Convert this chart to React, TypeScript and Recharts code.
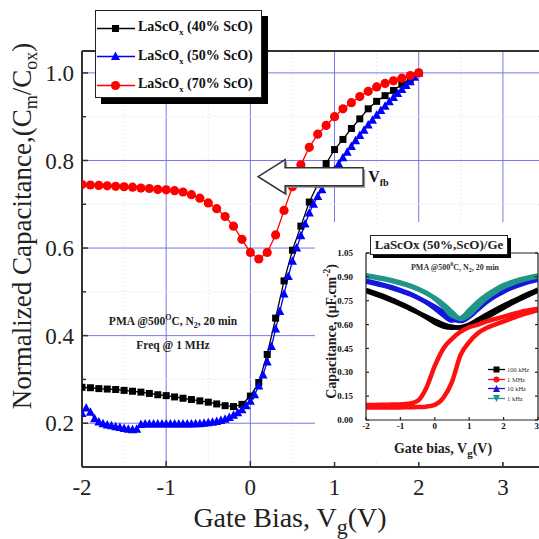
import React from "react";
import { LineChart, Line, XAxis, YAxis, CartesianGrid, ReferenceDot, ReferenceLine } from "recharts";

// Normalized C-V curves of LaScOx films, with a C-V frequency inset for the 50% ScO film.

const SERIF = '"Liberation Serif", "Times New Roman", serif';

// main chart: gate bias (V), 0.1 V steps for 40% and 70%, 0.05 V steps for 50%
const bias01 = [
  -2, -1.9, -1.8, -1.7, -1.6, -1.5, -1.4, -1.3, -1.2, -1.1,
  -1, -0.9, -0.8, -0.7, -0.6, -0.5, -0.4, -0.3, -0.2, -0.1,
  0, 0.1, 0.2, 0.3, 0.4, 0.5, 0.6, 0.7, 0.8, 0.9,
  1, 1.1, 1.2, 1.3, 1.4, 1.5, 1.6, 1.7, 1.8, 1.9, 2,
];
const bias005 = [
  -2, -1.95, -1.9, -1.85, -1.8, -1.75, -1.7, -1.65, -1.6, -1.55,
  -1.5, -1.45, -1.4, -1.35, -1.3, -1.25, -1.2, -1.15, -1.1, -1.05,
  -1, -0.95, -0.9, -0.85, -0.8, -0.75, -0.7, -0.65, -0.6, -0.55,
  -0.5, -0.45, -0.4, -0.35, -0.3, -0.25, -0.2, -0.15, -0.1, -0.05,
  0, 0.05, 0.1, 0.15, 0.2, 0.25, 0.3, 0.35, 0.4, 0.45,
  0.5, 0.55, 0.6, 0.65, 0.7, 0.75, 0.8, 0.85, 0.9, 0.95,
  1, 1.05, 1.1, 1.15, 1.2, 1.25, 1.3, 1.35, 1.4, 1.45,
  1.5, 1.55, 1.6, 1.65, 1.7, 1.75, 1.8, 1.85, 1.9, 1.95, 2,
];

const cap40 = [
  0.282, 0.281, 0.279, 0.278, 0.277, 0.275, 0.273, 0.271, 0.268, 0.265,
  0.263, 0.26, 0.257, 0.254, 0.251, 0.248, 0.244, 0.24, 0.238, 0.243,
  0.262, 0.293, 0.357, 0.44, 0.525, 0.595, 0.65, 0.705, 0.745, 0.793,
  0.825, 0.848, 0.873, 0.895, 0.918, 0.935, 0.948, 0.96, 0.974, 0.986, 1.0,
];
const cap50 = [
  0.222, 0.235, 0.225, 0.21, 0.203, 0.199, 0.196, 0.194, 0.192, 0.19,
  0.188, 0.186, 0.185, 0.186, 0.197, 0.198, 0.198, 0.198, 0.198, 0.198,
  0.198, 0.198, 0.198, 0.198, 0.198, 0.198, 0.198, 0.199, 0.199, 0.2,
  0.201, 0.202, 0.204, 0.206, 0.209, 0.213, 0.218, 0.224, 0.231, 0.24,
  0.25, 0.265, 0.285, 0.31, 0.34, 0.375, 0.415, 0.455, 0.495, 0.535,
  0.57, 0.6, 0.628, 0.655, 0.68, 0.7, 0.718, 0.733, 0.748, 0.763,
  0.778, 0.792, 0.806, 0.819, 0.832, 0.845, 0.857, 0.869, 0.881, 0.892,
  0.903, 0.914, 0.924, 0.934, 0.944, 0.953, 0.962, 0.971, 0.98, 0.99, 1.0,
];
const cap70 = [
  0.745, 0.744, 0.743, 0.742, 0.741, 0.74, 0.739, 0.737, 0.736, 0.734,
  0.733, 0.731, 0.728, 0.722, 0.714, 0.703, 0.69, 0.672, 0.65, 0.62,
  0.59, 0.575, 0.59, 0.63, 0.686, 0.74, 0.79, 0.83, 0.86, 0.88,
  0.9, 0.918, 0.932, 0.946, 0.958, 0.968, 0.976, 0.982, 0.988, 0.994, 1.0,
];

const seriesNames = ["40% ScO", "50% ScO", "70% ScO"];
const xMajor = [-2, -1, 0, 1, 2, 3];
const xMinor = [-1.5, -0.5, 0.5, 1.5, 2.5];
const yMajor = [0.2, 0.4, 0.6, 0.8, 1.0];
const yMinor = [0.3, 0.5, 0.7, 0.9];

// inset: capacitance (uF/cm2) vs gate bias, forward and reverse sweeps
const inBias = [-2, -1.75, -1.5, -1.25, -1, -0.75, -0.5, -0.25, 0, 0.25, 0.5, 0.75, 1, 1.25, 1.5, 1.75, 2, 2.25, 2.5, 2.75, 3];
const k100Fwd = [0.818, 0.8, 0.78, 0.758, 0.733, 0.707, 0.678, 0.645, 0.612, 0.588, 0.58, 0.584, 0.6, 0.63, 0.662, 0.692, 0.72, 0.746, 0.772, 0.796, 0.82];
const k100Rev = [0.81, 0.792, 0.772, 0.75, 0.727, 0.702, 0.676, 0.65, 0.625, 0.602, 0.586, 0.58, 0.59, 0.615, 0.645, 0.676, 0.706, 0.735, 0.762, 0.788, 0.812];
const m1Fwd = [0.095, 0.095, 0.096, 0.097, 0.098, 0.102, 0.12, 0.2, 0.34, 0.45, 0.51, 0.555, 0.583, 0.6, 0.62, 0.635, 0.65, 0.665, 0.68, 0.69, 0.7];
const m1Rev = [0.078, 0.078, 0.078, 0.078, 0.079, 0.08, 0.081, 0.084, 0.095, 0.14, 0.24, 0.41, 0.49, 0.545, 0.578, 0.6, 0.62, 0.64, 0.66, 0.675, 0.69];
const k10Fwd = [0.875, 0.863, 0.85, 0.835, 0.817, 0.796, 0.771, 0.74, 0.702, 0.658, 0.625, 0.638, 0.68, 0.725, 0.763, 0.795, 0.822, 0.843, 0.861, 0.876, 0.888];
const k10Rev = [0.87, 0.858, 0.845, 0.83, 0.812, 0.792, 0.769, 0.742, 0.712, 0.678, 0.64, 0.622, 0.648, 0.695, 0.74, 0.777, 0.807, 0.832, 0.852, 0.868, 0.882];
const k1Fwd = [0.91, 0.901, 0.891, 0.879, 0.865, 0.848, 0.827, 0.8, 0.763, 0.712, 0.655, 0.64, 0.69, 0.742, 0.785, 0.82, 0.848, 0.869, 0.885, 0.898, 0.908];
const k1Rev = [0.905, 0.896, 0.886, 0.874, 0.86, 0.843, 0.822, 0.797, 0.767, 0.728, 0.68, 0.635, 0.66, 0.715, 0.765, 0.803, 0.834, 0.858, 0.876, 0.891, 0.903];
const inNames = ["100 kHz", "1 MHz", "10 kHz", "1 kHz"];
const inColors = ["#000000", "#ff1010", "#1515e0", "#22958a"];
const inXTicks = [-2, -1, 0, 1, 2, 3];
const inYTicks = [0, 0.15, 0.3, 0.45, 0.6, 0.75, 0.9, 1.05];

const pts = (xs: number[], ys: number[]) => xs.map((v, i) => ({ v, c: ys[i] }));

const SquareDot = (p: any) =>
  p.cx == null ? null : <rect x={p.cx - 3.5} y={p.cy - 3.5} width={7} height={7} fill="#000" />;
const TriDot = (p: any) =>
  p.cx == null ? null : (
    <polygon points={`${p.cx},${p.cy - 5} ${p.cx - 4.5},${p.cy + 3.5} ${p.cx + 4.5},${p.cy + 3.5}`} fill="#0000ff" />
  );
const CircleDot = (p: any) =>
  p.cx == null ? null : <circle cx={p.cx} cy={p.cy} r={4.6} fill="#ff0000" />;

const ArrowShape = (p: any) => {
  const { cx, cy } = p;
  const poly = (dx: number, dy: number) =>
    [
      [-52, 0], [-25, -17], [-25, -9], [53, -9], [53, 9], [-25, 9], [-25, 17],
    ].map(([a, b]) => `${cx + a + dx},${cy + b + dy}`).join(" ");
  return (
    <g>
      <polygon points={poly(2, 2)} fill="#999" />
      <polygon points={poly(0, 0)} fill="#fff" stroke="#333" strokeWidth={1.5} />
      <text x={cx + 58} y={cy + 5} fontFamily={SERIF} fontWeight={700} fontSize={16} fill="#111">
        V<tspan fontSize={10} dy={4}>fb</tspan>
      </text>
    </g>
  );
};

const axisLine = { stroke: "#333", strokeWidth: 2 };
const tickLine = { stroke: "#333", strokeWidth: 1.5 };
const noLabel = () => "";
const mainTick = { fontSize: 23, fill: "#222", fontFamily: SERIF };

function LegendBox() {
  const marks = [
    <rect key="s" x={15} y={3} width={7} height={7} fill="#000" />,
    <polygon key="t" points="18.5,1.5 14,10 23,10" fill="#0000ff" />,
    <circle key="c" cx={18.5} cy={6.5} r={4.6} fill="#ff0000" />,
  ];
  const colors = ["#000", "#0000ff", "#ff0000"];
  return (
    <div
      style={{
        position: "absolute", left: 95, top: 10, width: 165, height: 86,
        background: "#fff", border: "1.5px solid #222", boxShadow: "6px 6px 0 #000",
        fontFamily: SERIF, fontWeight: 700, fontSize: 14, color: "#111",
      }}
    >
      {seriesNames.map((n, i) => (
        <div key={n} style={{ position: "absolute", left: 1, top: 7 + i * 28.5, height: 20, display: "flex", alignItems: "center", whiteSpace: "nowrap" }}>
          <svg width={38} height={13} style={{ marginRight: 3 }}>
            <line x1={0} y1={6.5} x2={38} y2={6.5} stroke={colors[i]} strokeWidth={1.5} />
            {marks[i]}
          </svg>
          <span>LaScO<sub style={{ fontSize: 8.5 }}>x</sub> ({n})</span>
        </div>
      ))}
    </div>
  );
}

function InsetLegend() {
  return (
    <div style={{ position: "absolute", left: 488, top: 365, fontFamily: SERIF, fontSize: 6.5, color: "#333" }}>
      {inNames.map((n, i) => (
        <div key={n} style={{ height: 9.5, display: "flex", alignItems: "center", whiteSpace: "nowrap" }}>
          <svg width={17} height={9} style={{ marginRight: 2 }}>
            <line x1={0} y1={4.5} x2={17} y2={4.5} stroke={inColors[i]} strokeWidth={1.3} />
            {i === 0 && <rect x={5.5} y={1.5} width={6} height={6} fill={inColors[i]} />}
            {i === 1 && <circle cx={8.5} cy={4.5} r={3} fill={inColors[i]} />}
            {i === 2 && <polygon points="8.5,1 5,8 12,8" fill={inColors[i]} />}
            {i === 3 && <polygon points="8.5,8 5,1 12,1" fill={inColors[i]} />}
          </svg>
          <span>{n}</span>
        </div>
      ))}
    </div>
  );
}

function Inset() {
  const sets = [
    [k100Fwd, k100Rev, 0],
    [m1Fwd, m1Rev, 1],
    [k10Fwd, k10Rev, 2],
    [k1Fwd, k1Rev, 3],
  ] as const;
  const tickStyle = { fontSize: 9, fontWeight: 700, fill: "#111", fontFamily: SERIF };
  const thin = { stroke: "#222", strokeWidth: 1.2 };
  return (
    <div style={{ position: "absolute", left: 315, top: 222, width: 224, height: 240, background: "#fff" }}>
      <LineChart width={224} height={240} margin={{ top: 30, right: 0, bottom: 41, left: 50 }}>
        <XAxis xAxisId="ix" type="number" dataKey="v" domain={[-2, 3]} ticks={inXTicks} allowDataOverflow
          height={1} tickSize={-3} tickMargin={6} axisLine={thin} tickLine={thin} tick={tickStyle} />
        <XAxis xAxisId="ixt" orientation="top" type="number" domain={[-2, 3]} ticks={inXTicks} allowDataOverflow
          height={1} tickSize={-3} tickFormatter={noLabel} axisLine={thin} tickLine={thin} />
        <YAxis yAxisId="iy" type="number" domain={[0, 1.05]} ticks={inYTicks} allowDataOverflow
          width={1} tickSize={-3} tickMargin={16} tickFormatter={(v: number) => v.toFixed(2)}
          axisLine={thin} tickLine={thin} tick={tickStyle} />
        <YAxis yAxisId="iyr" orientation="right" type="number" domain={[0, 1.05]} ticks={inYTicks} allowDataOverflow
          width={1} tickSize={-3} tickFormatter={noLabel} axisLine={thin} tickLine={thin} />
        {sets.flatMap(([f, r, ci]) =>
          [f, r].map((ys, j) => (
            <Line key={`${ci}-${j}`} xAxisId="ix" yAxisId="iy" data={pts(inBias, ys as number[])} dataKey="c"
              type="monotone" stroke={inColors[ci]} strokeWidth={4.5} dot={false} isAnimationActive={false} />
          ))
        )}
      </LineChart>
    </div>
  );
}

export default function App() {
  return (
    <div style={{ position: "absolute", left: 0, top: 0, width: 539, height: 539, overflow: "hidden", background: "#fff", fontFamily: SERIF }}>
      <LineChart width={560} height={539} margin={{ top: 49, right: 15, bottom: 70, left: 80 }}>
        <CartesianGrid xAxisId="x" yAxisId="y" stroke="#7676ea" strokeWidth={1} />
        {xMinor.map((v) => (
          <ReferenceLine key={`gx${v}`} xAxisId="x" yAxisId="y" x={v} stroke="#d6d6ea" strokeDasharray="1 3" />
        ))}
        {yMinor.map((v) => (
          <ReferenceLine key={`gy${v}`} xAxisId="x" yAxisId="y" y={v} stroke="#d6d6ea" strokeDasharray="1 3" />
        ))}
        <XAxis xAxisId="x" type="number" dataKey="v" domain={[-2, 3.5]} ticks={xMajor} allowDataOverflow
          height={1} tickSize={-6} tickMargin={18} axisLine={axisLine} tickLine={tickLine} tick={mainTick} />
        <XAxis xAxisId="xm" type="number" domain={[-2, 3.5]} ticks={xMinor} allowDataOverflow
          height={1} tickSize={-5} tickFormatter={noLabel} axisLine={false} tickLine={tickLine} />
        <XAxis xAxisId="xt" orientation="top" type="number" domain={[-2, 3.5]} ticks={xMajor} allowDataOverflow
          height={1} tickSize={-6} tickFormatter={noLabel} axisLine={axisLine} tickLine={tickLine} />
        <XAxis xAxisId="xtm" orientation="top" type="number" domain={[-2, 3.5]} ticks={xMinor} allowDataOverflow
          height={1} tickSize={-5} tickFormatter={noLabel} axisLine={false} tickLine={tickLine} />
        <YAxis yAxisId="y" type="number" domain={[0.1, 1.05]} ticks={yMajor} allowDataOverflow
          width={1} tickSize={-6} tickMargin={14} tickFormatter={(v: number) => v.toFixed(1)}
          axisLine={axisLine} tickLine={tickLine} tick={mainTick} />
        <YAxis yAxisId="ym" type="number" domain={[0.1, 1.05]} ticks={yMinor} allowDataOverflow
          width={1} tickSize={-5} tickFormatter={noLabel} axisLine={false} tickLine={tickLine} />
        <Line xAxisId="x" yAxisId="y" data={pts(bias01, cap40)} dataKey="c" name={seriesNames[0]} type="linear"
          stroke="#000" strokeWidth={1.3} dot={<SquareDot />} isAnimationActive={false} />
        <Line xAxisId="x" yAxisId="y" data={pts(bias005, cap50)} dataKey="c" name={seriesNames[1]} type="linear"
          stroke="#0000ff" strokeWidth={1.3} dot={<TriDot />} isAnimationActive={false} />
        <Line xAxisId="x" yAxisId="y" data={pts(bias01, cap70)} dataKey="c" name={seriesNames[2]} type="linear"
          stroke="#ff0000" strokeWidth={1.3} dot={<CircleDot />} isAnimationActive={false} />
        <ReferenceDot xAxisId="x" yAxisId="y" x={0.71} y={0.763} r={0} shape={ArrowShape} />
      </LineChart>

      <LegendBox />

      <div style={{ position: "absolute", left: 93, top: 314, width: 160, textAlign: "center", fontWeight: 700, fontSize: 11.5, color: "#222", lineHeight: "14px", whiteSpace: "nowrap" }}>
        PMA @500<sup style={{ fontSize: 8, lineHeight: 0 }}>O</sup>C, N<sub style={{ fontSize: 8, lineHeight: 0 }}>2</sub>, 20 min
      </div>
      <div style={{ position: "absolute", left: 93, top: 338, width: 160, textAlign: "center", fontWeight: 700, fontSize: 11.5, color: "#222", lineHeight: "14px" }}>
        Freq @ 1 MHz
      </div>

      <div style={{ position: "absolute", left: -195, top: 210, width: 434, height: 32, lineHeight: "32px", textAlign: "center", transform: "rotate(-90deg)", fontSize: 27, color: "#222", whiteSpace: "nowrap" }}>
        Normalized Capacitance,(C<sub style={{ fontSize: 18, lineHeight: 0 }}>m</sub>/C<sub style={{ fontSize: 18, lineHeight: 0 }}>ox</sub>)
      </div>

      <div style={{ position: "absolute", left: 90, top: 502, width: 400, textAlign: "center", fontSize: 28, color: "#222", whiteSpace: "nowrap", lineHeight: "32px" }}>
        Gate Bias, V<sub style={{ fontSize: 22, lineHeight: 0 }}>g</sub>(V)
      </div>

      <Inset />

      <div style={{ position: "absolute", left: 370, top: 235, width: 136, height: 18, lineHeight: "18px", textAlign: "center", background: "#fff", border: "1.5px solid #222", boxShadow: "3px 3px 0 #000", fontWeight: 700, fontSize: 13, color: "#222", whiteSpace: "nowrap" }}>
        LaScOx (50%,ScO)/Ge
      </div>
      <div style={{ position: "absolute", left: 395, top: 261, width: 120, textAlign: "center", fontWeight: 700, fontSize: 8, color: "#333", whiteSpace: "nowrap" }}>
        PMA @500<sup style={{ fontSize: 6 }}>0</sup>C, N<sub style={{ fontSize: 6 }}>2</sub>, 20 min
      </div>
      <div style={{ position: "absolute", left: 235, top: 323, width: 185, height: 17, lineHeight: "17px", textAlign: "center", transform: "rotate(-90deg)", fontWeight: 700, fontSize: 14, color: "#222", whiteSpace: "nowrap" }}>
        Capacitance, (μF.cm<sup style={{ fontSize: 9.5 }}>-2</sup>)
      </div>
      <div style={{ position: "absolute", left: 383, top: 441, width: 120, textAlign: "center", fontWeight: 700, fontSize: 14, color: "#222", whiteSpace: "nowrap" }}>
        Gate bias, V<sub style={{ fontSize: 11 }}>g</sub>(V)
      </div>
      <InsetLegend />
    </div>
  );
}
